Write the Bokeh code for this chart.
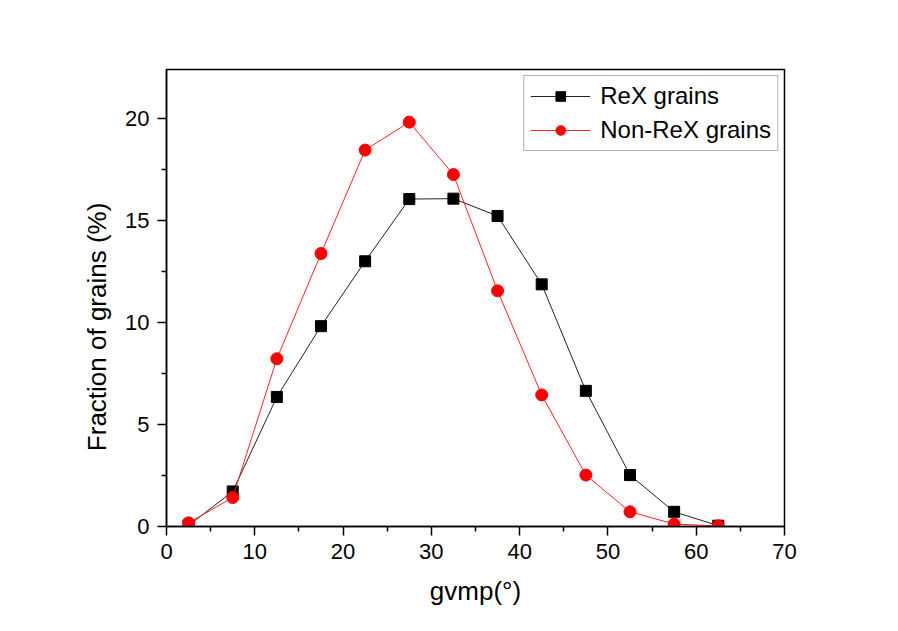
from bokeh.plotting import figure
from bokeh.models import Range1d, FixedTicker, Legend, LegendItem
from bokeh.embed import file_html
from bokeh.resources import INLINE

x_vals = [2.5, 7.5, 12.5, 17.5, 22.5, 27.5, 32.5, 37.5, 42.5, 47.5, 52.5, 57.5, 62.5]
rex = [0.05, 1.72, 6.35, 9.82, 13.0, 16.05, 16.07, 15.22, 11.87, 6.65, 2.52, 0.72, 0.04]
nonrex = [0.18, 1.42, 8.22, 13.38, 18.45, 19.82, 17.25, 11.55, 6.45, 2.52, 0.72, 0.12, 0.03]
x_ticks = [0, 10, 20, 30, 40, 50, 60, 70]
y_ticks = [0, 5, 10, 15, 20]

FONT = "Liberation Sans"

p = figure(width=898, height=631, output_backend="svg", toolbar_location=None,
           x_range=Range1d(0, 70), y_range=Range1d(0, 22.4),
           min_border_left=166, min_border_right=114, min_border_top=69, min_border_bottom=105)
p.background_fill_color = "white"
p.border_fill_color = "white"
p.grid.visible = False
p.outline_line_color = "black"
p.outline_line_width = 1.5

for ax in (p.xaxis[0], p.yaxis[0]):
    ax.axis_line_width = 1.5
    ax.major_tick_line_width = 1.5
    ax.minor_tick_line_width = 1.5
    ax.major_tick_out = 9
    ax.major_tick_in = 0
    ax.minor_tick_out = 5
    ax.minor_tick_in = 0
    ax.major_label_text_font = FONT
    ax.major_label_text_font_size = "22px"
    ax.major_label_text_color = "black"
    ax.axis_label_text_font = FONT
    ax.axis_label_text_font_size = "26px"
    ax.axis_label_text_font_style = "normal"
    ax.axis_label_text_color = "black"
    ax.major_label_standoff = 8

p.xaxis[0].ticker = FixedTicker(ticks=x_ticks, minor_ticks=[5, 15, 25, 35, 45, 55, 65])
p.yaxis[0].ticker = FixedTicker(ticks=y_ticks, minor_ticks=[2.5, 7.5, 12.5, 17.5])
p.xaxis[0].axis_label = "gvmp(°)"
p.yaxis[0].axis_label = "Fraction of grains (%)" + "\u00a0" * 8
p.xaxis[0].axis_label_standoff = 14
p.yaxis[0].axis_label_standoff = 10

l1 = p.line(x_vals, rex, line_color="#222222", line_width=1)
s1 = p.scatter(x_vals, rex, marker="square", size=11, fill_color="black", line_color="black")
l2 = p.line(x_vals, nonrex, line_color="#ff2020", line_width=1)
s2 = p.scatter(x_vals, nonrex, marker="circle", size=12, fill_color="#ff0000", line_color="#ff0000")

legend = Legend(items=[LegendItem(label="ReX grains", renderers=[l1, s1]),
                       LegendItem(label="Non-ReX grains", renderers=[l2, s2])],
                location="top_right")
legend.margin = 6
legend.padding = 6
legend.spacing = 6
legend.glyph_width = 60
legend.glyph_height = 24
legend.label_height = 24
legend.label_standoff = 10
legend.label_text_font = FONT
legend.label_text_font_size = "24px"
legend.label_text_color = "black"
legend.border_line_color = "#666666"
legend.border_line_width = 1
legend.background_fill_alpha = 1
p.add_layout(legend)

open("out.html", "w").write(file_html(p, INLINE))
